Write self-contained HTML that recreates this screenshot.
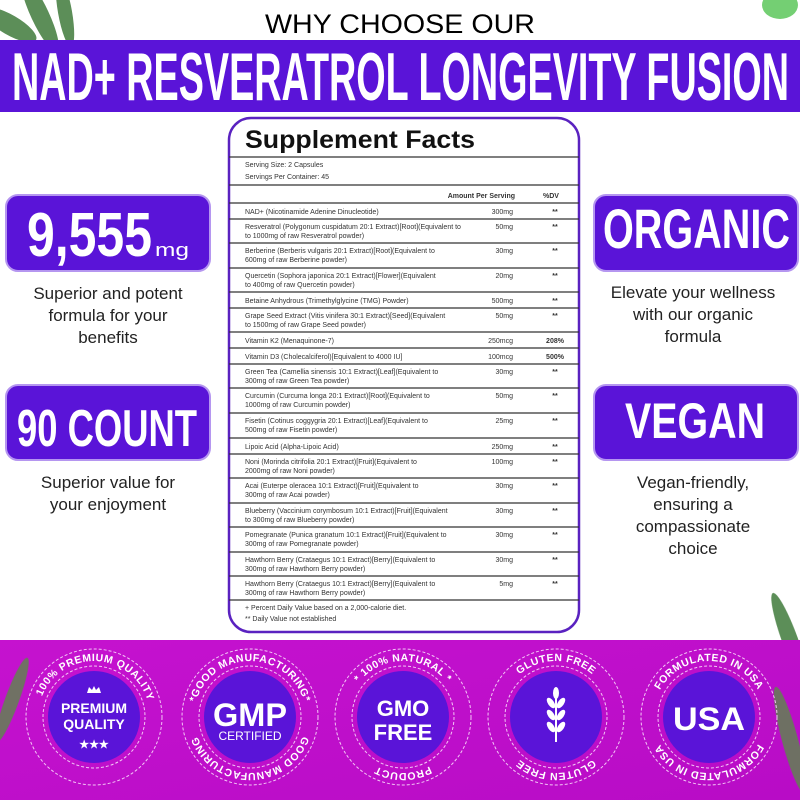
<!DOCTYPE html>
<html><head><meta charset="utf-8"><style>
html,body{margin:0;padding:0;background:#fff;width:800px;height:800px;overflow:hidden}
svg{display:block}
.b{font-family:"Liberation Sans",sans-serif;font-weight:bold}
.t{font-family:"Liberation Sans",sans-serif;font-size:7px;fill:#333}
.p{font-family:"Liberation Sans",sans-serif;font-size:17px;fill:#222;text-anchor:middle}
.a{text-anchor:end}
.d{text-anchor:middle;font-weight:bold}
.c{font-family:"Liberation Sans",sans-serif;font-weight:bold;fill:#fff;font-size:10.5px;letter-spacing:.5px}
</style></head><body>
<svg width="800" height="800" viewBox="0 0 800 800" xmlns="http://www.w3.org/2000/svg">
<defs>
<linearGradient id="mg" x1="0" y1="0" x2="1" y2="1"><stop offset="0" stop-color="#c512cf"/><stop offset="1" stop-color="#b80cc6"/></linearGradient>
</defs>
<!-- leaves -->
<g fill="#3f7a3a" opacity=".85">
<ellipse cx="40" cy="15" rx="9" ry="40" transform="rotate(-25 40 15)"/>
<ellipse cx="65" cy="12" rx="7" ry="35" transform="rotate(-10 65 12)"/>
<ellipse cx="10" cy="25" rx="10" ry="30" transform="rotate(-60 10 25)"/>
<ellipse cx="780" cy="5" rx="18" ry="14" fill="#5cc75a"/>
<ellipse cx="790" cy="640" rx="8" ry="50" transform="rotate(-20 790 640)"/>
</g>
<text x="400" y="33" class="b" font-size="27" text-anchor="middle" textLength="270" lengthAdjust="spacingAndGlyphs" font-weight="normal" style="font-weight:normal">WHY CHOOSE OUR</text>
<rect x="0" y="40" width="800" height="72" fill="#5a14d8"/>
<text x="12" y="100" class="b" font-size="68" fill="#fff" textLength="777" lengthAdjust="spacingAndGlyphs">NAD+ RESVERATROL LONGEVITY FUSION</text>

<!-- left boxes -->
<rect x="6" y="195" width="204" height="76" rx="12" fill="#5a14d8" stroke="#b596f0" stroke-width="2"/>
<text x="27" y="256" class="b" font-size="62" fill="#fff" textLength="125" lengthAdjust="spacingAndGlyphs">9,555</text>
<text x="155" y="256" class="b" font-size="18" fill="#fff" textLength="34" lengthAdjust="spacingAndGlyphs" style="font-weight:normal">mg</text>
<text x="108" y="299" class="p">Superior and potent</text>
<text x="108" y="321" class="p">formula for your</text>
<text x="108" y="343" class="p">benefits</text>
<rect x="6" y="385" width="204" height="75" rx="12" fill="#5a14d8" stroke="#b596f0" stroke-width="2"/>
<text x="17" y="446" class="b" font-size="52" fill="#fff" textLength="180" lengthAdjust="spacingAndGlyphs">90 COUNT</text>
<text x="108" y="488" class="p">Superior value for</text>
<text x="108" y="510" class="p">your enjoyment</text>

<!-- right boxes -->
<rect x="594" y="195" width="204" height="76" rx="12" fill="#5a14d8" stroke="#b596f0" stroke-width="2"/>
<text x="603" y="248" class="b" font-size="56" fill="#fff" textLength="187" lengthAdjust="spacingAndGlyphs">ORGANIC</text>
<text x="693" y="298" class="p">Elevate your wellness</text>
<text x="693" y="320" class="p">with our organic</text>
<text x="693" y="342" class="p">formula</text>
<rect x="594" y="385" width="204" height="75" rx="12" fill="#5a14d8" stroke="#b596f0" stroke-width="2"/>
<text x="625" y="438" class="b" font-size="50" fill="#fff" textLength="140" lengthAdjust="spacingAndGlyphs">VEGAN</text>
<text x="693" y="488" class="p">Vegan-friendly,</text>
<text x="693" y="510" class="p">ensuring a</text>
<text x="693" y="532" class="p">compassionate</text>
<text x="693" y="554" class="p">choice</text>

<!-- table -->
<rect x="229" y="118" width="350" height="514" rx="22" fill="#fff" stroke="#5a22c0" stroke-width="2.5"/>
<text x="245" y="148" class="b" font-size="25" fill="#111" textLength="230" lengthAdjust="spacingAndGlyphs">Supplement Facts</text>
<g stroke="#333" stroke-width="1.3">
<line x1="229" y1="157" x2="579" y2="157"/><line x1="229" y1="185" x2="579" y2="185"/>
<line x1="229" y1="203" x2="579" y2="203"/><line x1="229" y1="219" x2="579" y2="219"/>
<line x1="229" y1="243" x2="579" y2="243"/><line x1="229" y1="268" x2="579" y2="268"/>
<line x1="229" y1="292" x2="579" y2="292"/><line x1="229" y1="308" x2="579" y2="308"/>
<line x1="229" y1="332" x2="579" y2="332"/><line x1="229" y1="348" x2="579" y2="348"/>
<line x1="229" y1="364" x2="579" y2="364"/><line x1="229" y1="388" x2="579" y2="388"/>
<line x1="229" y1="413" x2="579" y2="413"/><line x1="229" y1="438" x2="579" y2="438"/>
<line x1="229" y1="454" x2="579" y2="454"/><line x1="229" y1="478" x2="579" y2="478"/>
<line x1="229" y1="503" x2="579" y2="503"/><line x1="229" y1="527" x2="579" y2="527"/>
<line x1="229" y1="552" x2="579" y2="552"/><line x1="229" y1="576" x2="579" y2="576"/>
<line x1="229" y1="600" x2="579" y2="600"/>
</g>
<text x="245" y="167" class="t" font-size="7.5">Serving Size: 2 Capsules</text>
<text x="245" y="179" class="t" font-size="7.5">Servings Per Container: 45</text>
<text x="515" y="198" class="t a" font-weight="bold">Amount Per Serving</text>
<text x="551" y="198" class="t d">%DV</text>
<g class="t">
<text x="245" y="214" class="t">NAD+ (Nicotinamide Adenine Dinucleotide)</text>
<text x="245" y="229" class="t">Resveratrol (Polygonum cuspidatum 20:1 Extract)[Root](Equivalent to</text><text x="245" y="238" class="t">to 1000mg of raw Resveratrol powder)</text>
<text x="245" y="253" class="t">Berberine (Berberis vulgaris 20:1 Extract)[Root](Equivalent to</text><text x="245" y="262" class="t">600mg of raw Berberine powder)</text>
<text x="245" y="278" class="t">Quercetin (Sophora japonica 20:1 Extract)[Flower](Equivalent</text><text x="245" y="287" class="t">to 400mg of raw Quercetin powder)</text>
<text x="245" y="303" class="t">Betaine Anhydrous (Trimethylglycine (TMG) Powder)</text>
<text x="245" y="318" class="t">Grape Seed Extract (Vitis vinifera 30:1 Extract)[Seed](Equivalent</text><text x="245" y="327" class="t">to 1500mg of raw Grape Seed powder)</text>
<text x="245" y="343" class="t">Vitamin K2 (Menaquinone-7)</text>
<text x="245" y="359" class="t">Vitamin D3 (Cholecalciferol)[Equivalent to 4000 IU]</text>
<text x="245" y="374" class="t">Green Tea (Camellia sinensis 10:1 Extract)[Leaf](Equivalent to</text><text x="245" y="383" class="t">300mg of raw Green Tea powder)</text>
<text x="245" y="398" class="t">Curcumin (Curcuma longa 20:1 Extract)[Root](Equivalent to</text><text x="245" y="407" class="t">1000mg of raw Curcumin powder)</text>
<text x="245" y="423" class="t">Fisetin (Cotinus coggygria 20:1 Extract)[Leaf](Equivalent to</text><text x="245" y="432" class="t">500mg of raw Fisetin powder)</text>
<text x="245" y="449" class="t">Lipoic Acid (Alpha-Lipoic Acid)</text>
<text x="245" y="464" class="t">Noni (Morinda citrifolia 20:1 Extract)[Fruit](Equivalent to</text><text x="245" y="473" class="t">2000mg of raw Noni powder)</text>
<text x="245" y="488" class="t">Acai (Euterpe oleracea 10:1 Extract)[Fruit](Equivalent to</text><text x="245" y="497" class="t">300mg of raw Acai powder)</text>
<text x="245" y="513" class="t">Blueberry (Vaccinium corymbosum 10:1 Extract)[Fruit](Equivalent</text><text x="245" y="522" class="t">to 300mg of raw Blueberry powder)</text>
<text x="245" y="537" class="t">Pomegranate (Punica granatum 10:1 Extract)[Fruit](Equivalent to</text><text x="245" y="546" class="t">300mg of raw Pomegranate powder)</text>
<text x="245" y="562" class="t">Hawthorn Berry (Crataegus 10:1 Extract)[Berry](Equivalent to</text><text x="245" y="571" class="t">300mg of raw Hawthorn Berry powder)</text>
<text x="245" y="586" class="t">Hawthorn Berry (Crataegus 10:1 Extract)[Berry](Equivalent to</text><text x="245" y="595" class="t">300mg of raw Hawthorn Berry powder)</text>
<text x="245" y="610" class="t">+ Percent Daily Value based on a 2,000-calorie diet.</text>
<text x="245" y="621" class="t">** Daily Value not established</text>
</g>
<g class="t">
<text x="513" y="214" class="t a">300mg</text><text x="513" y="229" class="t a">50mg</text>
<text x="513" y="253" class="t a">30mg</text><text x="513" y="278" class="t a">20mg</text>
<text x="513" y="303" class="t a">500mg</text><text x="513" y="318" class="t a">50mg</text>
<text x="513" y="343" class="t a">250mcg</text><text x="513" y="359" class="t a">100mcg</text>
<text x="513" y="374" class="t a">30mg</text><text x="513" y="398" class="t a">50mg</text>
<text x="513" y="423" class="t a">25mg</text><text x="513" y="449" class="t a">250mg</text>
<text x="513" y="464" class="t a">100mg</text><text x="513" y="488" class="t a">30mg</text>
<text x="513" y="513" class="t a">30mg</text><text x="513" y="537" class="t a">30mg</text>
<text x="513" y="562" class="t a">30mg</text><text x="513" y="586" class="t a">5mg</text>
</g>
<g>
<text x="555" y="214" class="t d">**</text><text x="555" y="229" class="t d">**</text>
<text x="555" y="253" class="t d">**</text><text x="555" y="278" class="t d">**</text>
<text x="555" y="303" class="t d">**</text><text x="555" y="318" class="t d">**</text>
<text x="555" y="343" class="t d" font-weight="normal">208%</text><text x="555" y="359" class="t d">500%</text>
<text x="555" y="374" class="t d">**</text><text x="555" y="398" class="t d">**</text>
<text x="555" y="423" class="t d">**</text><text x="555" y="449" class="t d">**</text>
<text x="555" y="464" class="t d">**</text><text x="555" y="488" class="t d">**</text>
<text x="555" y="513" class="t d">**</text><text x="555" y="537" class="t d">**</text>
<text x="555" y="562" class="t d">**</text><text x="555" y="586" class="t d">**</text>
</g>

<!-- bottom band -->
<rect x="0" y="640" width="800" height="160" fill="url(#mg)"/>
<g fill="#5c8a4a" opacity=".8">
<ellipse cx="12" cy="700" rx="7" ry="45" transform="rotate(20 12 700)"/>
<ellipse cx="790" cy="740" rx="8" ry="55" transform="rotate(-15 790 740)"/>
</g>

<!-- badges -->
<defs>
<path id="t1" d="M38,717 A56,56 0 1 1 150,717 A56,56 0 1 1 38,717"/>
<path id="t2" d="M194,717 A56,56 0 0 1 306,717"/><path id="b2" d="M306,717 A56,56 0 0 1 194,717"/>
<path id="t3" d="M347,717 A56,56 0 0 1 459,717"/><path id="b3" d="M459,717 A56,56 0 0 1 347,717"/>
<path id="t4" d="M500,717 A56,56 0 0 1 612,717"/><path id="b4" d="M612,717 A56,56 0 0 1 500,717"/>
<path id="t5" d="M653,717 A56,56 0 0 1 765,717"/><path id="b5" d="M765,717 A56,56 0 0 1 653,717"/>
</defs>
<g fill="none" stroke="#f3c6f6" stroke-width="1" stroke-dasharray="3 2">
<circle cx="94" cy="717" r="68"/><circle cx="94" cy="717" r="51"/>
<circle cx="250" cy="717" r="68"/><circle cx="250" cy="717" r="51"/>
<circle cx="403" cy="717" r="68"/><circle cx="403" cy="717" r="51"/>
<circle cx="556" cy="717" r="68"/><circle cx="556" cy="717" r="51"/>
<circle cx="709" cy="717" r="68"/><circle cx="709" cy="717" r="51"/>
</g>
<g fill="#5a14d8">
<circle cx="94" cy="717" r="46"/><circle cx="250" cy="717" r="46"/><circle cx="403" cy="717" r="46"/><circle cx="556" cy="717" r="46"/><circle cx="709" cy="717" r="46"/>
</g>
<text class="c"><textPath href="#t1" startOffset="6%">100% PREMIUM QUALITY</textPath></text>
<text class="c" text-anchor="middle"><textPath href="#t2" startOffset="50%">*GOOD MANUFACTURING*</textPath></text>
<text class="c" text-anchor="middle"><textPath href="#b2" startOffset="50%">GOOD MANUFACTURING</textPath></text>
<text class="c" text-anchor="middle"><textPath href="#t3" startOffset="50%">* 100% NATURAL *</textPath></text>
<text class="c" text-anchor="middle"><textPath href="#b3" startOffset="50%">PRODUCT</textPath></text>
<text class="c" text-anchor="middle"><textPath href="#t4" startOffset="50%">GLUTEN FREE</textPath></text>
<text class="c" text-anchor="middle"><textPath href="#b4" startOffset="50%">GLUTEN FREE</textPath></text>
<text class="c" text-anchor="middle"><textPath href="#t5" startOffset="50%">FORMULATED IN USA</textPath></text>
<text class="c" text-anchor="middle"><textPath href="#b5" startOffset="50%">FORMULATED IN USA</textPath></text>

<g fill="#fff" class="b" text-anchor="middle">
<path d="M87,693 l2,-6 3,3 2,-4 2,4 3,-3 2,6z" fill="#fff"/>
<text x="94" y="713" font-size="14">PREMIUM</text>
<text x="94" y="729" font-size="14">QUALITY</text>
<text x="94" y="748" font-size="11">★★★</text>
<text x="250" y="726" font-size="32" textLength="74" lengthAdjust="spacingAndGlyphs">GMP</text>
<text x="250" y="740" font-size="12" style="font-weight:normal">CERTIFIED</text>
<text x="403" y="716" font-size="22">GMO</text>
<text x="403" y="740" font-size="22">FREE</text>
<text x="709" y="730" font-size="32" textLength="72" lengthAdjust="spacingAndGlyphs">USA</text>
</g>
<g fill="#fff">
<rect x="555" y="692" width="2" height="50"/>
<ellipse cx="556" cy="693" rx="3" ry="6"/>
<ellipse cx="551" cy="703" rx="3" ry="6" transform="rotate(-35 551 703)"/><ellipse cx="561" cy="703" rx="3" ry="6" transform="rotate(35 561 703)"/>
<ellipse cx="551" cy="715" rx="3" ry="6" transform="rotate(-35 551 715)"/><ellipse cx="561" cy="715" rx="3" ry="6" transform="rotate(35 561 715)"/>
<ellipse cx="551" cy="727" rx="3" ry="6" transform="rotate(-35 551 727)"/><ellipse cx="561" cy="727" rx="3" ry="6" transform="rotate(35 561 727)"/>
</g>
</svg>
</body></html>
